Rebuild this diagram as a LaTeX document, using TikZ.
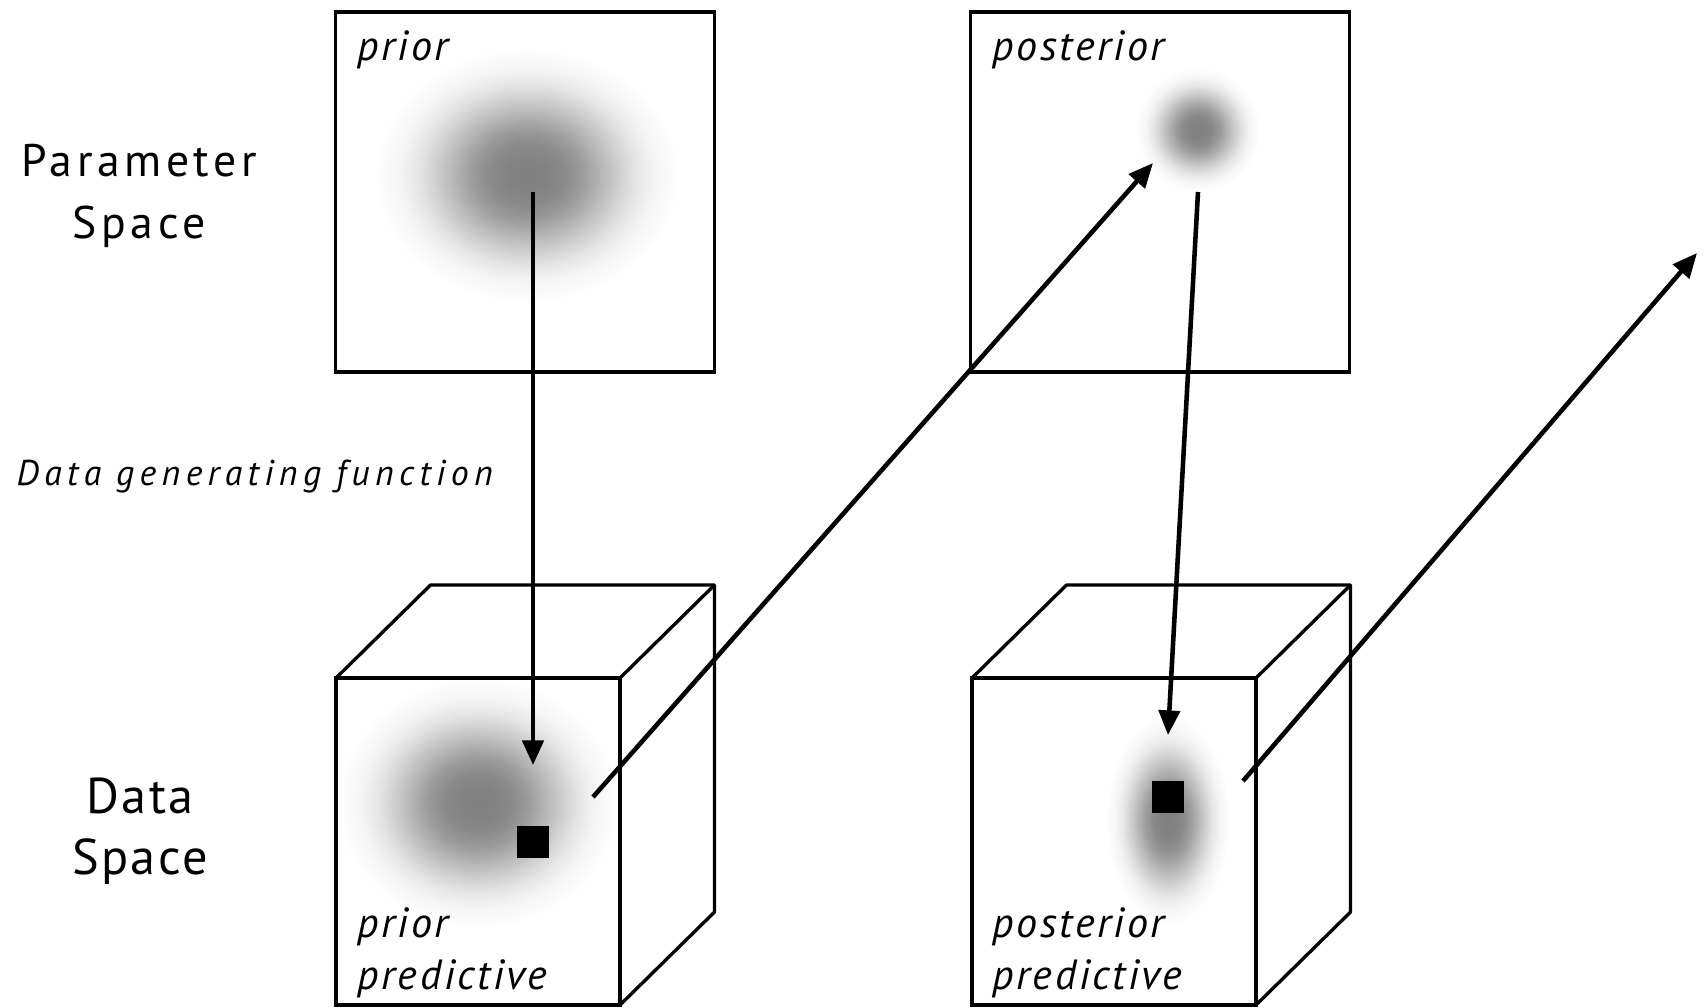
\documentclass[tikz,border=0pt]{standalone}
\usepackage{fontspec}
\setmainfont{PT Sans}
\newfontfamily\wideit[LetterSpace=15]{PT Sans Italic}
\newfontfamily\tagit[LetterSpace=6]{PT Sans Italic}
\newfontfamily\widerm[LetterSpace=10]{PT Sans}
\newfontfamily\halfrm[LetterSpace=5]{PT Sans}
\usepackage{tikz}
\usetikzlibrary{arrows.meta}

% soft gray spot, dark core fading to white at the rim (rim = 25bp)
\pgfdeclareradialshading{blob}{\pgfpoint{0bp}{0bp}}{%
  color(0bp)=(black!50); color(3bp)=(black!49); color(6bp)=(black!46);
  color(9bp)=(black!39); color(12bp)=(black!29); color(15bp)=(black!19);
  color(18bp)=(black!10); color(21bp)=(black!4); color(24bp)=(black!1);
  color(25bp)=(white); color(50bp)=(white)}

\tikzset{
  frame/.style={line width=0.95pt},
  pbox/.style={frame, draw, minimum width=3.79cm, minimum height=3.60cm, inner sep=0pt},
  conn/.style={line width=1.3pt, -{Triangle[length=7pt,width=6pt]}},
  tag/.style={font=\tagit\fontsize{12}{14.8}\selectfont, align=left, inner sep=0pt},
  spacelbl/.style={font=\widerm\fontsize{13}{17.5}\selectfont, align=center, inner sep=0pt},
  datum/.style={fill=black, minimum size=0.32cm, inner sep=0pt}
}

% data space cube, (#1,#2) = lower left corner of the front face
\newcommand{\datacube}[2]{%
  \draw[frame] (#1,#2) rectangle ++(2.84,3.27);
  \draw[frame,line join=round] (#1,#2+3.27) -- ++(0.945,0.93) -- ++(2.84,0)
    -- ++(0,-3.27) -- ++(-0.945,-0.93);
  \draw[frame] (#1+2.84,#2+3.27) -- ++(0.945,0.93);
}

\begin{document}
\begin{tikzpicture}
  \fill[white] (0,0) rectangle (17.06,-10.07);
  \useasboundingbox (0,0) rectangle (17.06,-10.07);

  % spots
  \shade[shading=blob] (5.27,-1.75) ellipse [x radius=1.52, y radius=1.27];
  \shade[shading=blob] (11.98,-1.30) ellipse [x radius=0.62, y radius=0.62];
  \shade[shading=blob] (4.78,-8.03) ellipse [x radius=1.40, y radius=1.25];
  \shade[shading=blob] (11.68,-8.20) ellipse [x radius=0.62, y radius=1.05];

  % parameter space
  \node[pbox] (prior) at (5.25,-1.92) {};
  \node[pbox] (post) at (11.60,-1.92) {};
  \node[tag, anchor=base west] at (3.57,-0.60) {prior};
  \node[tag, anchor=base west] at (9.92,-0.60) {posterior};

  % data space
  \datacube{3.36}{-10.05}
  \datacube{9.72}{-10.05}
  \node[tag, anchor=base west] (pp) at (3.57,-9.89) {prior\\predictive};
  \node[tag, anchor=base west] (qp) at (9.92,-9.89) {posterior\\predictive};
  \node[datum] (obs1) at (5.33,-8.42) {};
  \node[datum] (obs2) at (11.68,-7.97) {};

  \node[spacelbl] (ps) at (1.39,-1.96) {Parameter\\Space};
  \node[spacelbl, font=\halfrm\fontsize{14.3}{17.5}\selectfont] (ds) at (1.40,-8.31) {Data\\Space};
  \node[inner sep=0pt, anchor=base west, font=\wideit\fontsize{10.2}{12}\selectfont]
    (dgf) at (0.16,-4.85) {Data generating function};

  % arrow ends
  \coordinate (a1) at (5.33,-1.92);
  \coordinate (b1) at (5.33,-7.65);
  \coordinate (a2) at (5.93,-7.97);
  \coordinate (b2) at (11.53,-1.63);
  \coordinate (a3) at (11.98,-1.92);
  \coordinate (b3) at (11.68,-7.35);
  \coordinate (a4) at (12.43,-7.81);
  \coordinate (b4) at (16.97,-2.53);
  \draw[conn] (a1) -- (b1);
  \draw[conn] (a2) -- (b2);
  \draw[conn] (a3) -- (b3);
  \draw[conn] (a4) -- (b4);
\end{tikzpicture}
\end{document}
